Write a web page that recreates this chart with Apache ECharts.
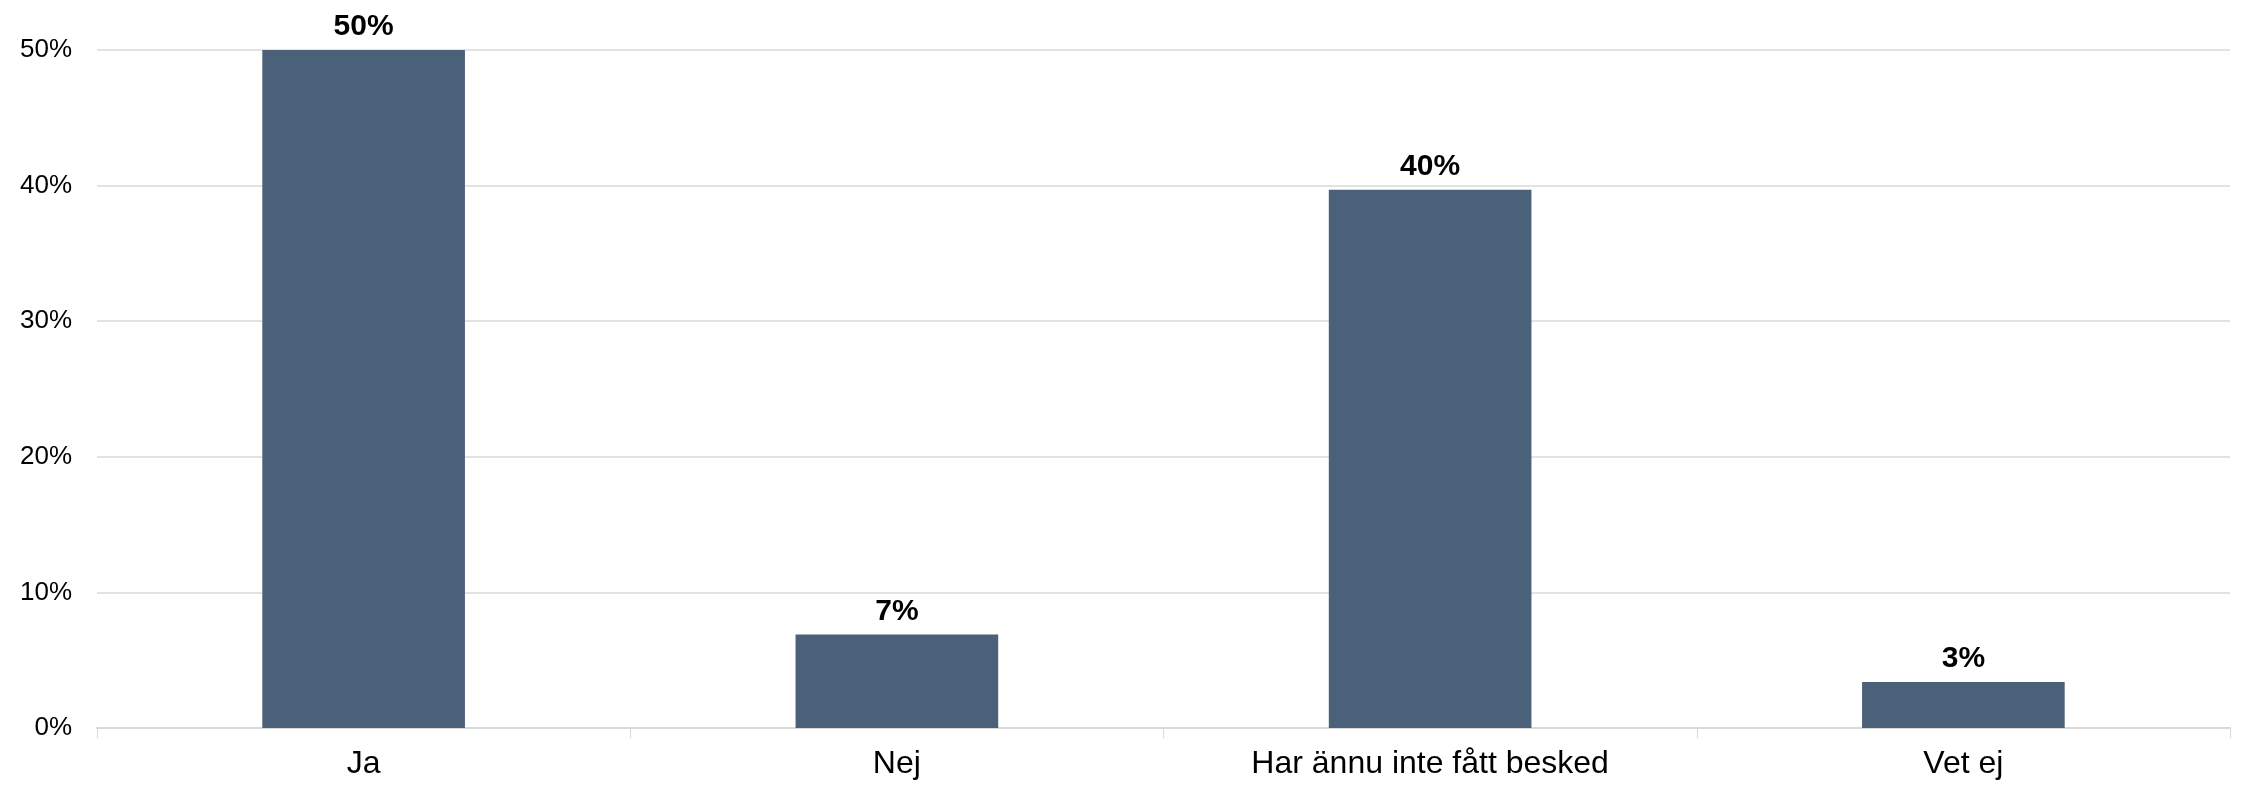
<!DOCTYPE html>
<html lang="sv" style="height: 100%">
<head>
  <meta charset="utf-8">
  <title>Besked</title>
  <script type="text/javascript" src="https://fastly.jsdelivr.net/npm/echarts@6/dist/echarts.min.js"></script>
</head>
<body style="height: 100%; margin: 0; background: #fff">
  <div id="chart" style="width: 2244px; height: 785px"></div>

  <script type="text/javascript">
    var categories = ['Ja', 'Nej', 'Har ännu inte fått besked', 'Vet ej'];
    var values = [50, 6.9, 39.7, 3.4];
    var yTicks = [0, 10, 20, 30, 40, 50];

    var myChart = echarts.init(document.getElementById('chart'));

    var option = {
      animation: false,
      textStyle: { fontFamily: 'Liberation Sans, Arial, sans-serif' },
      grid: { left: 97, right: 14, top: 50, bottom: 57 },
      xAxis: {
        type: 'category',
        data: categories,
        axisLine: { lineStyle: { color: '#d9d9d9', width: 2 } },
        axisTick: { show: true, length: 10, lineStyle: { color: '#d9d9d9', width: 1 } },
        axisLabel: { color: '#000', fontSize: 32, margin: 20 }
      },
      yAxis: {
        type: 'value',
        min: yTicks[0],
        max: yTicks[yTicks.length - 1],
        interval: 10,
        axisLine: { show: false },
        axisTick: { show: false },
        splitLine: { lineStyle: { color: '#e3e3e3', width: 2 } },
        axisLabel: {
          color: '#000',
          fontSize: 26,
          margin: 25,
          formatter: function (v) { return v + '%'; }
        }
      },
      series: [
        {
          type: 'bar',
          data: values,
          barWidth: '38%',
          itemStyle: { color: '#4b6179' },
          label: {
            show: true,
            position: 'top',
            distance: 8,
            color: '#000',
            fontSize: 30,
            fontWeight: 'bold',
            formatter: function (p) { return Math.round(p.value) + '%'; }
          }
        }
      ]
    };

    myChart.setOption(option);
  </script>
</body>
</html>
